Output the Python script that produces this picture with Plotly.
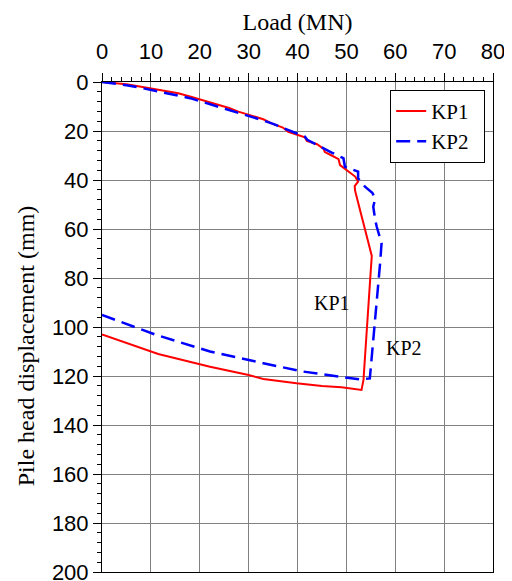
import plotly.graph_objects as go

# KP1 load-displacement
kp1_load = [0, 2, 5, 8, 10, 13, 15.6, 18, 20.4, 23.1, 26, 27.9, 31.3, 33, 34.7, 37, 38.1, 39.5,
            41.5, 41.9, 44, 45.3, 45.6, 47, 48.4, 48.7, 50, 51.8, 52.4, 51.7, 51.8,
            55.2, 55.0, 53.5, 53.1,
            49, 45, 42.6, 39.8, 33, 30, 22.1, 11.5, 0]
kp1_disp = [0, 0.3, 0.95, 1.9, 2.6, 3.7, 4.6, 5.9, 7.3, 9.0, 10.6, 12.1, 14.1, 15.2, 16.9, 18.6, 20.3, 21.2,
            22.6, 24.0, 25.4, 27.2, 28.6, 30.0, 31.5, 33.9, 35.8, 38.6, 40.7, 42.5, 44.5,
            71.0, 76.7, 121.6, 125.7,
            124.6, 124.1, 123.7, 123.0, 121.2, 119.6, 116.2, 111.0, 103.0]

# KP2 load-displacement
kp2_load = [0, 3, 5, 8, 10, 13, 15.6, 18, 20, 23, 26, 28, 31, 33, 35, 37, 39, 41.5,
            42, 43.6, 45, 47, 49.4, 49.7, 52.4, 52.4, 53.8, 55.3, 55.9, 55.5, 55.9, 56.2,
            57.2, 56.9, 54.8, 52.8,
            48.7, 41.2, 33, 30, 22.1, 11.2, 0]
kp2_disp = [0, 0.6, 1.3, 2.4, 3.2, 4.4, 5.6, 6.6, 7.8, 9.6, 11.3, 12.8, 14.5, 15.7, 17.1, 18.7, 20.3, 22.3,
            23.6, 25.3, 27.0, 28.8, 31.1, 34.6, 36.6, 39.3, 42.7, 45.2, 47.5, 50.9, 56.3, 59.0,
            65.8, 74.0, 121.0, 121.4,
            120.3, 118.2, 114.8, 113.5, 110.0, 103.3, 95.1]

x_ticks = [0, 10, 20, 30, 40, 50, 60, 70, 80]
y_ticks = [0, 20, 40, 60, 80, 100, 120, 140, 160, 180, 200]

serif = "Liberation Serif"
sans = "Liberation Sans"

fig = go.Figure()
fig.add_trace(go.Scatter(x=kp1_load, y=kp1_disp, mode="lines", name="KP1\u00a0\u00a0",
                         line=dict(color="#ff0000", width=2)))
fig.add_trace(go.Scatter(x=kp2_load, y=kp2_disp, mode="lines", name="KP2\u00a0\u00a0",
                         line=dict(color="#0000ff", width=2.5, dash="14px,7px")))

fig.add_annotation(x=47.1, y=90.2, text="KP1", showarrow=False,
                   font=dict(family=serif, size=20, color="black"))
fig.add_annotation(x=61.8, y=108.6, text="KP2", showarrow=False,
                   font=dict(family=serif, size=20, color="black"))
# y-axis title (placed slightly below the plot centre, as in the reference)
fig.add_annotation(xref="paper", yref="paper", x=-0.194, y=0.461, textangle=-90,
                   text="Pile head displacement (mm)", showarrow=False,
                   xanchor="center", yanchor="middle",
                   font=dict(family=serif, size=24, color="black"))

axis_common = dict(showline=True, linecolor="black", linewidth=1, mirror=True,
                   showgrid=True, gridcolor="#808080", gridwidth=1,
                   ticks="outside", ticklen=8, tickcolor="black", tickwidth=1,
                   zeroline=False, automargin=False, ticklabeloverflow="allow",
                   tickfont=dict(family=sans, size=22, color="black"))

fig.update_xaxes(range=[0, 80], side="top", tickvals=x_ticks, ticklabelstandoff=5,
                 title=dict(text="Load (MN)", font=dict(family=serif, size=24, color="black"), standoff=1),
                 minor=dict(dtick=2, ticks="outside", ticklen=4, tickcolor="black", showgrid=False),
                 **axis_common)
fig.update_yaxes(range=[200, 0], tickvals=y_ticks,
                 minor=dict(dtick=4, ticks="outside", ticklen=4, tickcolor="black", showgrid=False),
                 **axis_common)

# page has an 8px body margin, so the figure is 504x573 with margins shifted by 8px
fig.update_layout(
    width=504, height=573,
    margin=dict(l=94, r=19, t=74, b=9),
    paper_bgcolor="white", plot_bgcolor="white",
    showlegend=True,
    legend=dict(x=0.98, y=0.984, xanchor="right", yanchor="top",
                bgcolor="white", bordercolor="black", borderwidth=1,
                font=dict(family=serif, size=21, color="black"),
                tracegroupgap=0),
)

fig.write_html("out.html")
